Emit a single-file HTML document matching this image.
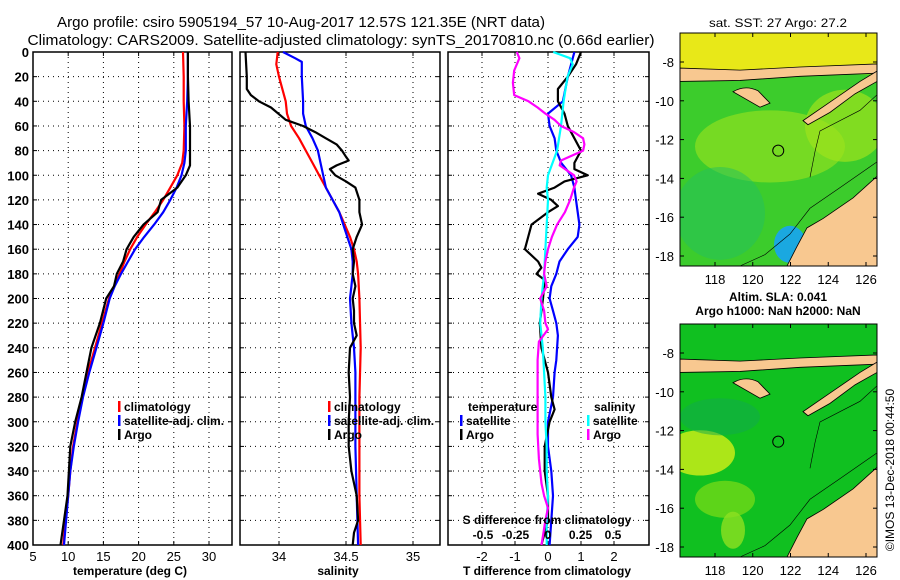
<!DOCTYPE html>
<html><head><meta charset="utf-8"><style>
html,body{margin:0;padding:0;background:#fff}
svg{display:block;font-family:"Liberation Sans",sans-serif;font-weight:bold}
</style></head><body>
<svg id="chart" width="900" height="580" viewBox="0 0 900 580" xmlns="http://www.w3.org/2000/svg">
<text x="301" y="27" font-size="15" font-weight="normal" text-anchor="middle" textLength="488" lengthAdjust="spacingAndGlyphs">Argo profile: csiro 5905194_57 10-Aug-2017 12.57S 121.35E (NRT data)</text>
<text x="341" y="45" font-size="15" font-weight="normal" text-anchor="middle" textLength="627" lengthAdjust="spacingAndGlyphs">Climatology: CARS2009. Satellite-adjusted climatology: synTS_20170810.nc (0.66d earlier)</text>
<g id="panels"></g>
<g id="maps"></g>
<text x="778" y="27" font-size="12" font-weight="normal" text-anchor="middle" textLength="138" lengthAdjust="spacingAndGlyphs">sat. SST: 27 Argo: 27.2</text>
<text x="778" y="301" font-size="12" text-anchor="middle">Altim. SLA: 0.041</text>
<text x="778" y="315" font-size="12" text-anchor="middle">Argo h1000: NaN h2000: NaN</text>
<text transform="translate(894,470) rotate(-90)" font-size="12" font-weight="normal" text-anchor="middle">©IMOS 13-Dec-2018 00:44:50</text>
</svg>
<script>
// ---- data ----
const depthT=[0,20,40,60,80,90,100,110,120,130,140,150,160,170,180,190,200,220,240,260,280,300,320,340,360,380,400];
const tempClim=[26.3,26.4,26.4,26.5,26.4,26.2,25.5,24.5,23.5,22.3,21,19.8,18.8,18,17.3,16.5,15.8,14.8,13.8,12.8,12,11.3,10.7,10.3,10,9.6,9.3];
const tempSat=[27,27,26.9,26.7,26.7,26.5,26.1,25.4,24.5,23.5,22.2,20.8,19.5,18.5,17.5,16.6,15.9,15,14,13,12.1,11.4,10.8,10.3,10,9.7,9.4];
const depthTA=[0,20,40,60,80,92,100,110,120,130,140,150,160,170,180,190,200,220,240,260,280,300,320,340,360,380,400];
const tempArgo=[27,27,27.1,27.3,27.3,27.3,26.7,25.5,23.2,22.7,20.7,19.3,18.3,17.8,16.9,16.5,15.4,14.5,13.3,12.6,11.9,11,10.3,10.1,9.9,9.4,8.9];
const depthS=[0,10,20,40,50,60,70,80,90,100,110,120,130,140,150,160,170,180,200,240,280,320,360,400];
const salClim=[33.99,33.98,34,34.05,34.06,34.09,34.15,34.2,34.25,34.3,34.35,34.4,34.45,34.49,34.53,34.56,34.58,34.59,34.6,34.61,34.6,34.6,34.6,34.61];
const depthSS=[0,5,8,20,40,50,60,70,80,90,100,110,120,130,140,150,160,170,180,190,200,220,240,260,280,320,360,400];
const salSat=[34.03,34.12,34.17,34.17,34.18,34.18,34.2,34.25,34.29,34.31,34.33,34.35,34.4,34.45,34.48,34.51,34.54,34.55,34.55,34.54,34.53,34.54,34.56,34.57,34.57,34.57,34.58,34.59];
const depthSA=[0,20,30,35,40,45,55,60,65,70,75,80,85,88,92,95,100,105,110,120,130,140,150,160,170,180,190,200,210,220,230,240,260,280,300,320,340,360,380,390,400];
const salArgo=[33.75,33.76,33.76,33.79,33.85,33.94,34.05,34.18,34.27,34.35,34.43,34.47,34.5,34.52,34.43,34.38,34.42,34.5,34.57,34.6,34.6,34.62,34.58,34.55,34.56,34.55,34.57,34.55,34.56,34.56,34.58,34.53,34.52,34.53,34.52,34.52,34.54,34.58,34.59,34.56,34.55];
const depthD=[0,20,40,50,60,70,80,90,100,110,120,130,140,150,160,170,180,190,200,210,220,230,250,260,280,300,320,340,360,380,400];
const dTsat=[0.8,0.6,0.45,0,0.05,0.2,0.25,0.4,0.7,0.8,0.85,0.9,0.95,0.9,0.6,0.35,0.25,0.1,0.05,0.15,0.25,0.3,0.25,0.2,0.15,0,0,0.1,0.15,0.1,0.05];
const depthDA=[0,10,20,30,40,50,60,70,80,90,95,100,105,110,115,120,125,130,140,150,160,170,175,180,185,200,220,240,260,280,290,300,320,340,360,380,400];
const dTargo=[1,0.85,0.6,0.3,0.3,0.5,0.6,0.8,1,0.8,0.8,1.2,0.5,0.2,-0.3,0.1,0.3,0,-0.5,-0.6,-0.7,-0.3,-0.2,-0.35,-0.1,-0.15,-0.25,-0.2,0,0.1,0.2,0.05,-0.1,-0.1,0,0,-0.2];
const depthDS=[0,5,10,20,40,60,80,100,110,120,140,160,180,200,220,240,260,280,300,320,340,360,380,400];
const dSsat=[0.04,0.17,0.19,0.15,0.12,0.1,0.07,0,-0.01,0,-0.01,-0.02,-0.03,-0.05,-0.06,-0.04,-0.03,-0.02,-0.02,-0.01,-0.01,0,-0.01,-0.01];
const depthDSA=[0,5,15,25,35,40,45,50,55,60,65,70,75,80,88,92,100,105,110,120,130,140,150,160,170,180,190,200,210,220,225,235,250,270,290,310,330,350,360,370,380,400];
const dSargo=[-0.24,-0.22,-0.26,-0.27,-0.26,-0.15,-0.08,-0.02,0.05,0.1,0.2,0.27,0.28,0.27,0.1,0.09,0.2,0.22,0.2,0.17,0.13,0.07,0.03,0,-0.02,-0.03,-0.01,-0.06,-0.03,-0.02,0,-0.07,-0.08,-0.08,-0.08,-0.08,-0.07,-0.05,-0.03,0,-0.02,-0.05];
const depthTicks=[0,20,40,60,80,100,120,140,160,180,200,220,240,260,280,300,320,340,360,380,400];
const tempTicks=[5,10,15,20,25,30];
const salTicks=[34,34.5,35];
const dTTicks=[-2,-1,0,1,2];
const dSTicks=[-0.5,-0.25,0,0.25,0.5];
const dSTickLabels=["-0.5","-0.25","0","0.25","0.5"];
const lonTicks=[118,120,122,124,126];
const latTicks=[-8,-10,-12,-14,-16,-18];

const NS="http://www.w3.org/2000/svg";
function mk(tag,attrs,parent){const e=document.createElementNS(NS,tag);for(const k in attrs)e.setAttribute(k,attrs[k]);parent.appendChild(e);return e;}
const Y0=52,Y1=545;
const yD=d=>Y0+(Y1-Y0)*d/400;
function lin(d0,d1,r0,r1){return v=>r0+(v-d0)*(r1-r0)/(d1-d0);}
const panels=document.getElementById('panels');

function panel(name,x0,x1,xs,ticks,labels,showY){
  const g=mk('g',{},panels);
  
  
  depthTicks.forEach(d=>{const l=mk('line',{x1:x0,x2:x1,y1:yD(d),y2:yD(d),stroke:'#000','stroke-width':1,'stroke-dasharray':'1,4'},g);
    
    mk('line',{x1:x0,x2:x0+4,y1:yD(d),y2:yD(d),stroke:'#000'},g);mk('line',{x1:x1-4,x2:x1,y1:yD(d),y2:yD(d),stroke:'#000'},g);
    if(showY){const t=mk('text',{x:x0-4,y:yD(d)+5,'font-size':13,'text-anchor':'end'},g);t.textContent=d;
      }
  });
  ticks.forEach((v,i)=>{const x=xs(v);
    const l=mk('line',{x1:x,x2:x,y1:Y0,y2:Y1,stroke:'#000','stroke-dasharray':'1,4'},g);
    
    mk('line',{x1:x,x2:x,y1:Y0,y2:Y0+4,stroke:'#000'},g);mk('line',{x1:x,x2:x,y1:Y1-4,y2:Y1,stroke:'#000'},g);
    const t=mk('text',{x:x,y:Y1+16,'font-size':13,'text-anchor':'middle','font-weight':'normal'},g);t.textContent=labels[i];
    
  });
  const r=mk('rect',{x:x0,y:Y0,width:x1-x0,height:Y1-Y0,fill:'none',stroke:'#000','stroke-width':1.5},g);
  
  return g;
}
function series(g,name,xs,vals,ds,color){
  const p=mk('polyline',{points:vals.map((v,i)=>xs(v).toFixed(1)+','+yD(ds[i]).toFixed(1)).join(' '),fill:'none',stroke:color,'stroke-width':2.2,'stroke-linejoin':'round'},g);
  
  
}
function txt(g,name,x,y,s,size,anchor){const t=mk('text',{x:x,y:y,'font-size':size||12,'text-anchor':anchor||'start'},g);t.textContent=s;
  return t;}
function legend(g,x,y,items){items.forEach((it,i)=>{mk('rect',{x:x,y:y+i*14-10,width:2.5,height:11,fill:it[1]},g);
  txt(g,'legend-entry',x+6,y+i*14,it[0],12);});}

// Panel 1 temperature
const xT=lin(5,30,33,209);
const g1=panel('temperature-panel',33,232,xT,tempTicks,tempTicks,true);
series(g1,'temp-climatology-line',xT,tempClim,depthT,'#f00');
series(g1,'temp-satellite-line',xT,tempSat,depthT,'#00f');
series(g1,'temp-argo-line',xT,tempArgo,depthTA,'#000');
legend(g1,118,411,[['climatology','#f00'],['satellite-adj. clim.','#00f'],['Argo','#000']]);
txt(g1,'temperature-axis-title',130,575,'temperature (deg C)',12,'middle');

// Panel 2 salinity
const xS=lin(34,35,279,413);
const g2=panel('salinity-panel',240,440,xS,salTicks,salTicks,false);
series(g2,'sal-climatology-line',xS,salClim,depthS,'#f00');
series(g2,'sal-satellite-line',xS,salSat,depthSS,'#00f');
series(g2,'sal-argo-line',xS,salArgo,depthSA,'#000');
legend(g2,328,411,[['climatology','#f00'],['satellite-adj. clim.','#00f'],['Argo','#000']]);
txt(g2,'salinity-axis-title',338,575,'salinity',12,'middle');

// Panel 3 differences
const xDT=lin(0,1,548,581);
const xDS=lin(0,0.5,548,613);
const g3=panel('difference-panel',448,649,xDT,dTTicks,dTTicks,false);
series(g3,'t-diff-satellite-line',xDT,dTsat,depthD,'#00f');
series(g3,'t-diff-argo-line',xDT,dTargo,depthDA,'#000');
series(g3,'s-diff-satellite-line',xDS,dSsat,depthDS,'#0ff');
series(g3,'s-diff-argo-line',xDS,dSargo,depthDSA,'#f0f');
txt(g3,'legend-temperature-header',468,411,'temperature',12);
legend(g3,460,425,[['satellite','#00f'],['Argo','#000']]);
txt(g3,'legend-salinity-header',594,411,'salinity',12);
legend(g3,587,425,[['satellite','#0ff'],['Argo','#f0f']]);
txt(g3,'s-diff-axis-title',547,524,'S difference from climatology',12,'middle');
dSTicks.forEach((v,i)=>txt(g3,'s-diff-tick-label',xDS(v),539,dSTickLabels[i],12,'middle'));
txt(g3,'t-diff-axis-title',547,575,'T difference from climatology',12,'middle');

// Maps
const maps=document.getElementById('maps');
const MH=233;
const lonX=lin(118,126,715,866);
const latRel=lin(-8,-18,29,223);
function map(name,top,variant){
  const g=mk('g',{},maps);
  
  
  const id='clip'+variant;
  const cp=mk('clipPath',{id:id},g);mk('rect',{x:680,y:top,width:197,height:MH},cp);
  const outer=mk('g',{'clip-path':'url(#'+id+')'},g);
  const c=mk('g',{transform:`translate(0,${top}) scale(1,${MH/226})`},outer);
  if(variant==='sst'){
    mk('rect',{x:680,y:0,width:197,height:226,fill:'#3ccc2c'},c);
    mk('rect',{x:680,y:0,width:197,height:40,fill:'#e8e818'},c);
    mk('ellipse',{cx:770,cy:110,rx:75,ry:35,fill:'#8ee020',opacity:0.7},c);
    mk('ellipse',{cx:845,cy:90,rx:40,ry:35,fill:'#9ee31c',opacity:0.7},c);
    mk('ellipse',{cx:720,cy:175,rx:45,ry:45,fill:'#22c060',opacity:0.5},c);
    mk('ellipse',{cx:790,cy:205,rx:16,ry:18,fill:'#1aa8e0'},c);
  } else {
    mk('rect',{x:680,y:0,width:197,height:226,fill:'#10c020'},c);
    mk('ellipse',{cx:700,cy:125,rx:35,ry:22,fill:'#c8ec18',opacity:0.85},c);
    mk('ellipse',{cx:725,cy:170,rx:30,ry:18,fill:'#70d818',opacity:0.8},c);
    mk('ellipse',{cx:720,cy:90,rx:40,ry:18,fill:'#10a850',opacity:0.5},c);
    mk('ellipse',{cx:733,cy:200,rx:12,ry:18,fill:'#8ee020',opacity:0.8},c);
  }
  const land='#f8c890';
  mk('path',{d:`M680 34 L740 36 L800 33 L877 30 L877 39 L800 42 L740 46 L680 47 Z`,fill:land,stroke:'#000','stroke-width':0.8},c);
  mk('path',{d:`M733 57 Q745 50 758 56 L770 68 L760 72 Z`,fill:land,stroke:'#000','stroke-width':0.8},c);
  mk('path',{d:`M803 85 L830 67 L860 47 L877 37 L877 47 L855 59 L830 77 L808 89 Z`,fill:land,stroke:'#000','stroke-width':0.8},c);
  mk('path',{d:`M877 139 L853 160 L823 180 L807 189 L797 207 L787 226 L877 226 Z`,fill:land,stroke:'#000','stroke-width':0.8},c);
  mk('path',{d:`M877 125 L840 150 L810 170 L790 195 L765 215 L740 226`,fill:'none',stroke:'#000','stroke-width':0.6},c);
  mk('path',{d:`M877 60 L860 75 L820 95 L815 115 L810 140`,fill:'none',stroke:'#000','stroke-width':0.6},c);
  const circ=mk('circle',{cx:lonX(121.35),cy:top+latRel(-12.57),r:5.5,fill:'none',stroke:'#000','stroke-width':1},g);
  
  mk('rect',{x:680,y:top,width:197,height:MH,fill:'none',stroke:'#000','stroke-width':1},g);
  lonTicks.forEach(v=>{const x=lonX(v);mk('line',{x1:x,x2:x,y1:top,y2:top+4,stroke:'#000'},g);mk('line',{x1:x,x2:x,y1:top+MH-4,y2:top+MH,stroke:'#000'},g);
    const t=txt(g,'lon-tick-label',x,top+MH+18,v,13,'middle');t.setAttribute('font-weight','normal');});
  latTicks.forEach(v=>{const y=top+latRel(v);mk('line',{x1:680,x2:684,y1:y,y2:y,stroke:'#000'},g);mk('line',{x1:873,x2:877,y1:y,y2:y,stroke:'#000'},g);
    const t=txt(g,'lat-tick-label',674,y+5,v,13,'end');t.setAttribute('font-weight','normal');});
}
map('sst-map',33,'sst');
map('sla-map',324,'sla');
</script>
</body></html>
